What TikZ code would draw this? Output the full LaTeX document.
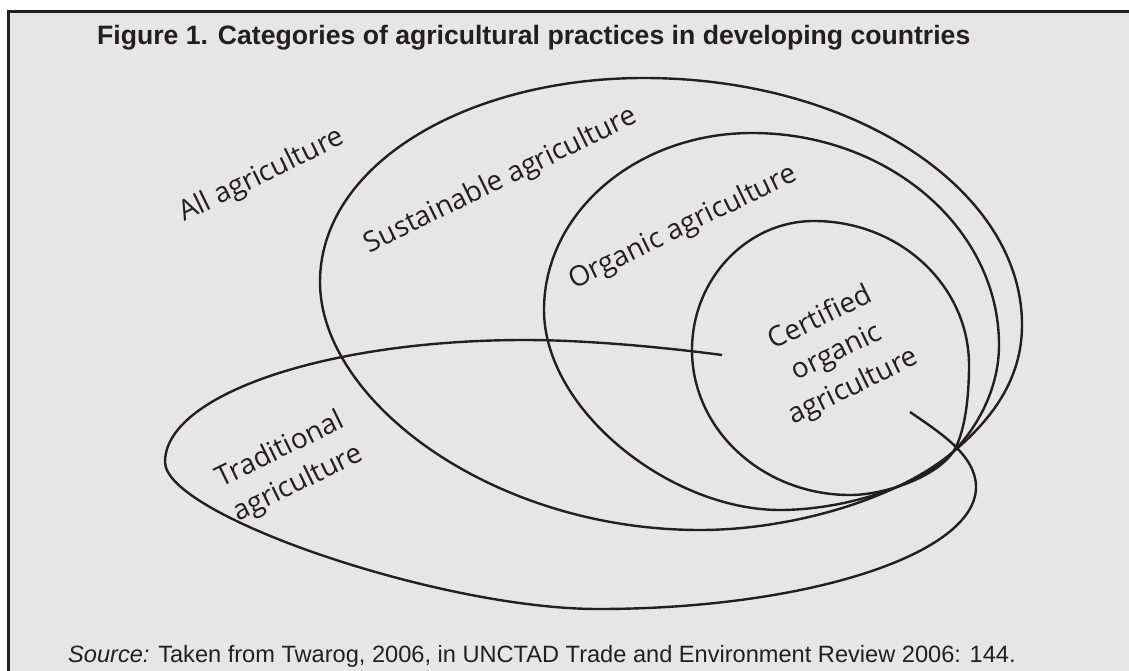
\documentclass[tikz,border=0pt]{standalone}
\usepackage{fontspec}
\setmainfont{Liberation Sans}
\newfontfamily\labelfont{Open Sans}
\definecolor{ink}{HTML}{231F20}
\definecolor{panel}{HTML}{E6E6E6}
\begin{document}
\begin{tikzpicture}[x=1pt,y=-1pt,
  curve/.style={draw=ink,line width=2.4pt},
  lbl/.style={text=ink,font=\labelfont\fontsize{28}{38}\selectfont,rotate=26,inner sep=0pt}]
\useasboundingbox (0,0) rectangle (1129,671);
\fill[white] (0,0) rectangle (1129,671);
\fill[panel] (8,12) rectangle (1129,671);
\draw[draw=ink,line width=3pt] (8,671) -- (8,12) -- (1129,12);
% title and source
\node[anchor=base west,inner sep=0pt,text=ink,font=\bfseries\fontsize{26.6}{30}\selectfont] (title) at (97,45) {Figure 1. Categories of agricultural practices in developing countries};
\node[anchor=base west,inner sep=0pt,text=ink,font=\fontsize{23.6}{28}\selectfont] (source) at (68,662) {\textit{Source:} Taken from Twarog, 2006, in UNCTAD Trade and Environment Review 2006: 144.};
% sustainable
\draw[curve] (320,282) .. controls (320,165) and (466,78) .. (644,78)
 .. controls (853,78) and (1022,189) .. (1022,325)
 .. controls (1022,380) and (991,420) .. (953,452)
 .. controls (896,500) and (790,530) .. (700,530)
 .. controls (491,530) and (320,400) .. cycle;
% organic
\draw[curve] (544,310) .. controls (544,212) and (637,133) .. (752,133)
 .. controls (888,133) and (999,228) .. (999,345)
 .. controls (999,390) and (976,429) .. (953,452)
 .. controls (914,491) and (835,510) .. (780,510)
 .. controls (670,510) and (544,410) .. cycle;
% certified
\draw[curve] (692,350) .. controls (692,279) and (747,221) .. (814,221)
 .. controls (900,221) and (969,286) .. (969,365)
 .. controls (969,405) and (963,437) .. (953,452)
 .. controls (936,477) and (885,495) .. (850,495)
 .. controls (763,495) and (692,430) .. cycle;
% traditional (open)
\draw[curve] (722,355) .. controls (662,347) and (585,340) .. (525,340)
 .. controls (326,340) and (165,395) .. (165,462)
 .. controls (165,515) and (440,609) .. (598,609)
 .. controls (807,609) and (976,554) .. (976,487)
 .. controls (976,455) and (939,432) .. (910,412);
% labels
\node[lbl] (all) at (262,176) {All agriculture};
\node[lbl] (sust) at (501,181) {Sustainable agriculture};
\node[lbl] (org) at (683,228) {Organic agriculture};
\node[lbl,align=center] (cert) at (837,353) {Certified\\organic\\agriculture};
\node[lbl,align=left] (trad) at (290,467) {Traditional\\agriculture};
\end{tikzpicture}
\end{document}
